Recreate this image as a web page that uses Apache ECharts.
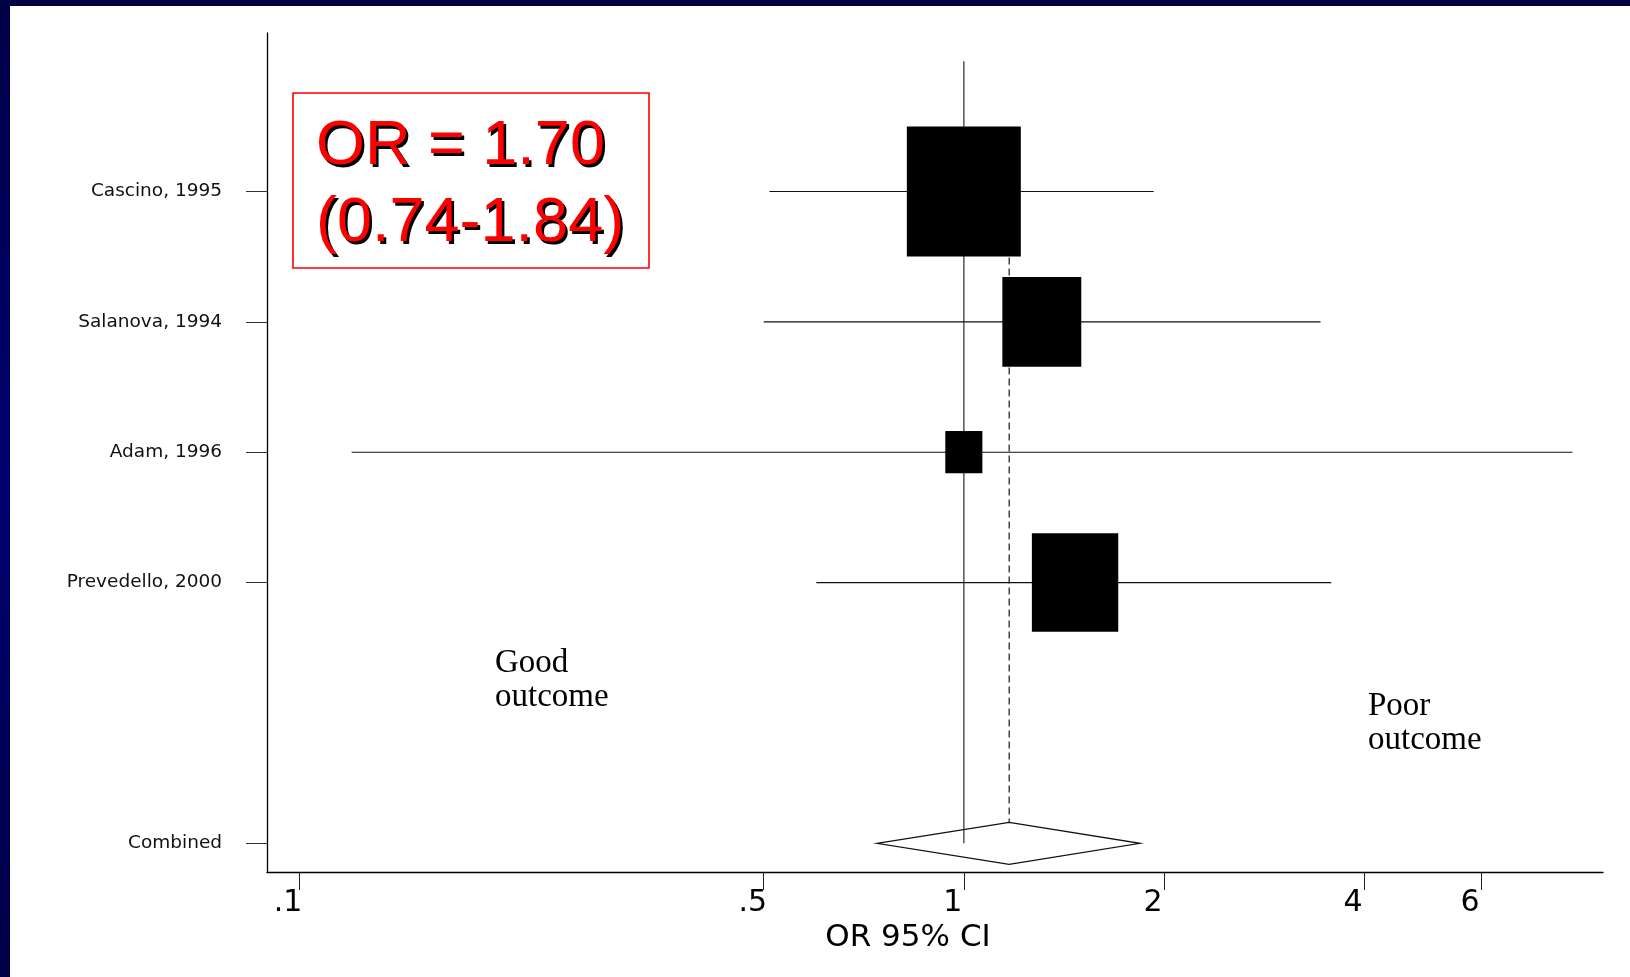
<!DOCTYPE html>
<html><head><meta charset="utf-8">
<script src="https://cdn.jsdelivr.net/npm/echarts@6/dist/echarts.min.js"></script>
<style>html,body{margin:0;padding:0;background:#fff;}#c{width:1630px;height:977px;}</style>
</head><body><div id="c"></div>
<script>
// ---------- data ----------
const studies = ['Cascino, 1995', 'Salanova, 1994', 'Adam, 1996', 'Prevedello, 2000'];
const studyRows = [0, 1, 2, 3];
const oddsRatio = [1.00, 1.31, 1.00, 1.47];
const ciLower = [0.51, 0.50, 0.12, 0.60];
const ciUpper = [1.93, 3.44, 8.23, 3.57];
const weights = [46.3, 22.2, 4.9, 26.6];
const combinedLabel = 'Combined';
const combinedRow = 5;
const pooledLower = [0.74];
const pooledEstimate = [1.17];
const pooledUpper = [1.84];
const nullValue = [1];
const xTicks = [0.1, 0.5, 1, 2, 4, 6];
const xTickLabels = ['.1', '.5', '1', '2', '4', '6'];
const yRows = [0, 1, 2, 3, 5];
const yLabels = ['Cascino, 1995', 'Salanova, 1994', 'Adam, 1996', 'Prevedello, 2000', 'Combined'];
const xTitle = 'OR 95% CI';
const summaryLines = ['OR = 1.70', '(0.74-1.84)'];
const leftNote = ['Good', 'outcome'];
const rightNote = ['Poor', 'outcome'];

// ---------- chart ----------
const chart = echarts.init(document.getElementById('c'), null, {renderer: 'canvas'});

const studyData = studies.map((s, i) => [studyRows[i], oddsRatio[i], ciLower[i], ciUpper[i], weights[i]]);
const pooledData = [[combinedRow, pooledLower[0], pooledEstimate[0], pooledUpper[0]]];

const sans = '"DejaVu Sans", sans-serif';
const serifFont = '"Liberation Serif", "Times New Roman", serif';
const redFont = '63px "Liberation Sans", Arial, sans-serif';

function findLabel(list, labels, v) {
  for (let i = 0; i < list.length; i++) {
    if (Math.abs(list[i] - v) <= 1e-3 * Math.max(1, Math.abs(list[i]))) return labels[i];
  }
  return '';
}

// summary text: black drop shadow copy behind red text
const summaryGraphics = [];
summaryLines.forEach((t, i) => {
  const y = 147 + i * 77;
  summaryGraphics.push({type: 'text', x: 318.5, y: y + 2.5, z: 51,
    style: {text: t, font: redFont, fill: '#000', verticalAlign: 'middle'}});
  summaryGraphics.push({type: 'text', x: 316, y: y, z: 52,
    style: {text: t, font: redFont, fill: '#ff0000', verticalAlign: 'middle'}});
});

const option = {
  backgroundColor: '#ffffff',
  animation: false,
  grid: {left: 267, right: 27, top: 33, bottom: 105, containLabel: false},
  xAxis: {
    type: 'log', logBase: 10, min: 0.0895, max: 9.15,
    axisLine: {show: true, onZero: false, lineStyle: {color: '#000', width: 1.3}},
    axisTick: {show: true, customValues: xTicks, length: 18, lineStyle: {color: '#222', width: 1}},
    axisLabel: {
      customValues: xTicks, margin: 16, fontSize: 30, fontFamily: sans, color: '#000',
      padding: [0, 22, 0, 0],
      formatter: v => findLabel(xTicks, xTickLabels, v)
    },
    splitLine: {show: false}, minorTick: {show: false}, minorSplitLine: {show: false},
    name: xTitle, nameLocation: 'middle', nameGap: 50,
    nameTextStyle: {fontSize: 31, fontFamily: sans, color: '#000', padding: [0, 54, 0, 0]}
  },
  yAxis: {
    type: 'value', inverse: true, min: -1.216, max: 5.22,
    axisLine: {show: true, onZero: false, lineStyle: {color: '#000', width: 1.3}},
    axisTick: {show: true, customValues: yRows, length: 21, lineStyle: {color: '#333', width: 1}},
    axisLabel: {
      customValues: yRows, margin: 45, fontSize: 18.5, fontFamily: sans, color: '#111',
      formatter: v => findLabel(yRows, yLabels, v)
    },
    splitLine: {show: false}
  },
  graphic: [
    {type: 'rect', shape: {x: 0, y: 0, width: 10, height: 977}, z: 100,
      style: {fill: new echarts.graphic.LinearGradient(0, 0, 0, 1, [
        {offset: 0, color: '#000048'}, {offset: 0.5, color: '#000070'}, {offset: 1, color: '#000046'}])}},
    {type: 'rect', shape: {x: 0, y: 0, width: 1630, height: 6}, z: 100, style: {fill: '#000044'}},
    {type: 'rect', shape: {x: 293, y: 93, width: 356, height: 175}, z: 50,
      style: {fill: 'none', stroke: '#ff0000', lineWidth: 1.6}},
    ...summaryGraphics,
    {type: 'text', x: 495, y: 663, z: 51,
      style: {text: leftNote[0], font: '33px ' + serifFont, fill: '#000', verticalAlign: 'middle'}},
    {type: 'text', x: 495, y: 697, z: 51,
      style: {text: leftNote[1], font: '33px ' + serifFont, fill: '#000', verticalAlign: 'middle'}},
    {type: 'text', x: 1368, y: 706, z: 51,
      style: {text: rightNote[0], font: '33px ' + serifFont, fill: '#000', verticalAlign: 'middle'}},
    {type: 'text', x: 1368, y: 740, z: 51,
      style: {text: rightNote[1], font: '33px ' + serifFont, fill: '#000', verticalAlign: 'middle'}}
  ],
  series: [
    {
      type: 'custom', name: 'null line', clip: false, z: 1,
      data: nullValue.map(v => [v]),
      encode: {x: 0},
      renderItem: function (params, api) {
        const p0 = api.coord([api.value(0), -1]);
        const p1 = api.coord([api.value(0), combinedRow]);
        return {type: 'line', shape: {x1: p0[0], y1: p0[1], x2: p1[0], y2: p1[1]},
          style: {stroke: '#555', lineWidth: 1.5}};
      }
    },
    {
      type: 'custom', name: 'pooled', clip: false, z: 2,
      data: pooledData,
      encode: {x: [1, 2, 3], y: 0},
      renderItem: function (params, api) {
        const row = api.value(0);
        const pl = api.coord([api.value(1), row]);
        const pe = api.coord([api.value(2), row]);
        const pu = api.coord([api.value(3), row]);
        const top = api.coord([api.value(2), studyRows[0]]);
        const h = 21;
        return {type: 'group', children: [
          {type: 'line', shape: {x1: pe[0], y1: top[1], x2: pe[0], y2: pe[1] - h},
            style: {stroke: '#000', lineWidth: 1.1, lineDash: [7, 4]}},
          {type: 'polygon', shape: {points: [[pl[0], pl[1]], [pe[0], pe[1] - h], [pu[0], pu[1]], [pe[0], pe[1] + h]]},
            style: {fill: 'none', stroke: '#111', lineWidth: 1.3}}
        ]};
      }
    },
    {
      type: 'custom', name: 'studies', clip: false, z: 3,
      data: studyData,
      encode: {x: [1, 2, 3], y: 0},
      renderItem: function (params, api) {
        const row = api.value(0);
        const pe = api.coord([api.value(1), row]);
        const pl = api.coord([api.value(2), row]);
        const pu = api.coord([api.value(3), row]);
        const w = 16.75 * Math.sqrt(api.value(4));
        const h = w * 1.14;
        return {type: 'group', children: [
          {type: 'line', shape: {x1: pl[0], y1: pl[1], x2: pu[0], y2: pu[1]},
            style: {stroke: '#111', lineWidth: 1.1}},
          {type: 'rect', shape: {x: pe[0] - w / 2, y: pe[1] - h / 2, width: w, height: h},
            style: {fill: '#000'}}
        ]};
      }
    }
  ]
};
chart.setOption(option);
</script>
</body></html>
